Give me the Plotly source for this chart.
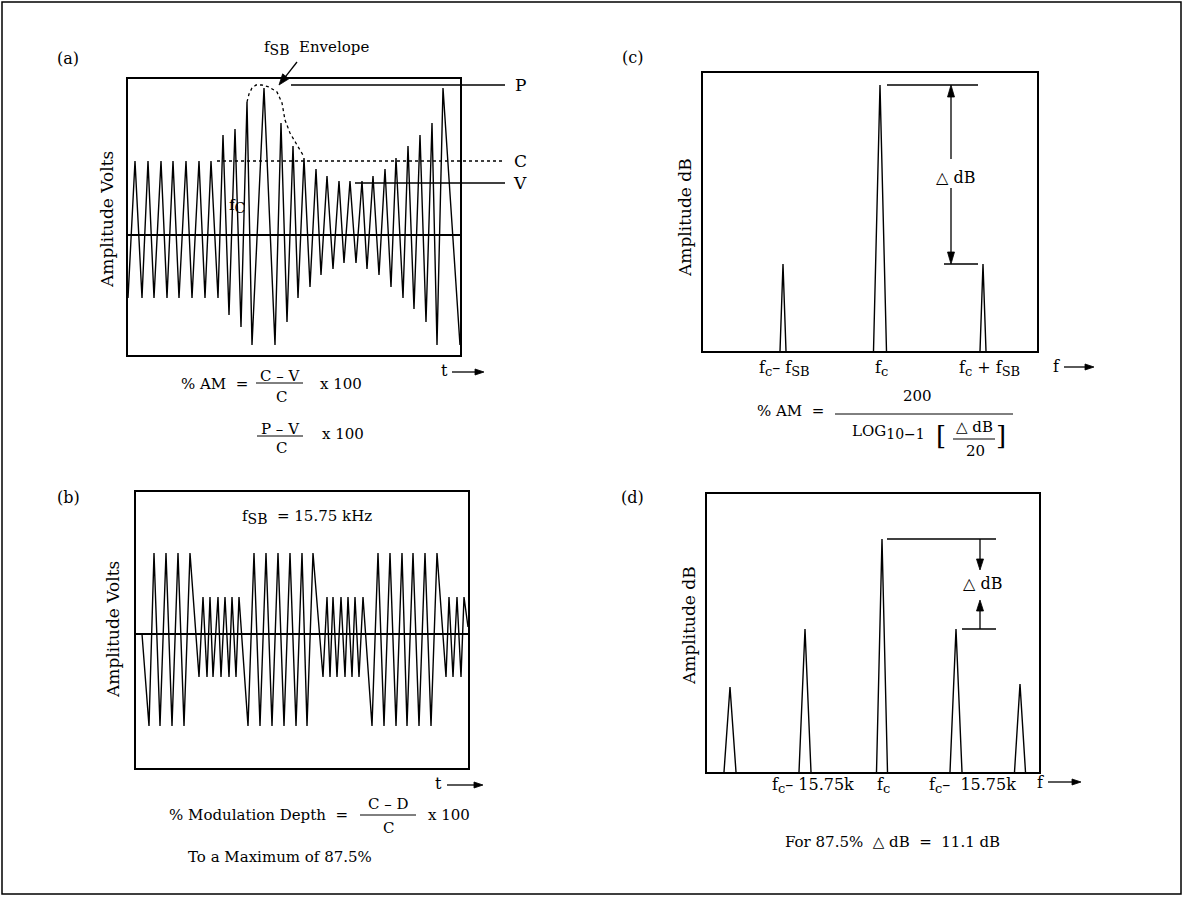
import math
import plotly.graph_objects as go

W, H = 1183, 898
FONT = "DejaVu Serif"

# ---------------- data ----------------
# (a) AM waveform: time (arb.) and amplitude (arb. volts)
a_t = [0, 7, 14, 20, 26, 33, 39, 45, 51, 58, 64, 71, 77, 83, 90,
       95, 101, 107, 113, 119, 124,
       136, 147, 153, 159, 165, 170,
       176, 182, 188, 193, 199, 205,
       211, 216, 222, 228, 234, 239,
       245, 251, 257, 263, 268, 275,
       280, 286, 292, 298, 304, 309,
       315, 332]
a_amp = [-63, 74, -63, 74, -63, 74, -63, 74, -63, 74, -63, 74, -63, 74, -63,
         100, -80, 106, -92, 133, -110,
         147, -110, 112, -87, 89, -63,
         77, -52, 66, -40, 59, -34,
         54, -28, 54, -28, 54, -34,
         59, -40, 66, -52, 77, -63,
         89, -74, 100, -87, 112, -110,
         147, -110]
# envelope sketch over the first burst
env_t = [119, 121, 124, 128, 134, 141, 149, 154, 157, 162, 169, 175]
env_amp = [133, 141, 147, 150, 150, 148, 143, 132, 115, 102, 90, 80]
# reference levels P, C, V
a_levels = {"P": 150, "C": 74, "V": 52}

# (b) sync-burst style modulation
b_t = [6, 13, 18, 24, 30, 36, 42, 48, 54,
       63, 67, 71, 74, 77, 82, 85, 89, 93, 96, 100, 103,
       112, 118, 124, 130, 136, 142, 148, 154, 160, 166, 171, 177,
       187, 191, 194, 197, 201, 205, 209, 212, 216, 219, 223, 227,
       236, 242, 248, 254, 260, 266, 271, 277, 283, 289, 295, 301,
       310, 313, 317, 321, 325, 328, 332]
b_amp = [0, -92, 81, -92, 81, -92, 81, -92, 81,
         -43, 37, -43, 37, -43, 37, -43, 37, -43, 37, -43, 37,
         -92, 81, -92, 81, -92, 81, -92, 81, -92, 81, -92, 81,
         -43, 37, -43, 37, -43, 37, -43, 37, -43, 37, -43, 37,
         -92, 81, -92, 81, -92, 81, -92, 81, -92, 81, -92, 81,
         -43, 37, -43, 37, -43, 37, 7]

# (c) spectrum: frequency offset from carrier, level (arb. dB)
c_freq = [-97, 0, 103]
c_level = [87, 266, 87]

# (d) spectrum
d_freq = [-152, -77, 0, 74, 138]
d_level = [85, 143, 233, 143, 88]


def sub(s, size=13):
    return '<sub><span style="font-size:%dpx">%s</span></sub>' % (size, s)


c_labels = ["f" + sub("c") + "– f" + sub("SB"), "f" + sub("c"), "f" + sub("c") + " + f" + sub("SB")]
d_labels = ["f" + sub("c") + "– 15.75k", "f" + sub("c"), "f" + sub("c") + "–  15.75k"]

# ---------------- geometry (pixel domains of each panel) ----------------
PANELS = {
    "a": dict(px=(128, 460), py=(355, 79), xr=(0, 332), yr=(-120, 156)),
    "b": dict(px=(136, 468), py=(768, 492), xr=(0, 332), yr=(-134, 142)),
    "c": dict(px=(703, 1037), py=(351, 73), xr=(-177, 157), yr=(0, 278)),
    "d": dict(px=(707, 1039), py=(772, 494), xr=(-175, 157), yr=(0, 278)),
}


def to_px(p, x, y):
    g = PANELS[p]
    fx = (x - g["xr"][0]) / (g["xr"][1] - g["xr"][0])
    fy = (y - g["yr"][0]) / (g["yr"][1] - g["yr"][0])
    return g["px"][0] + fx * (g["px"][1] - g["px"][0]), g["py"][0] + fy * (g["py"][1] - g["py"][0])


ann = []
shapes = []


def X(px):
    return px / W


def Y(py):
    return 1 - py / H


def text(x, y, s, size=15, xanchor="center", angle=0):
    ann.append(dict(x=X(x), y=Y(y), xref="paper", yref="paper", text=s,
                    showarrow=False, xanchor=xanchor, yanchor="middle",
                    textangle=angle,
                    font=dict(family=FONT, size=size, color="black")))


def pline(x0, y0, x1, y1, width=1.3, dash="solid"):
    shapes.append(dict(type="line", xref="paper", yref="paper",
                       x0=X(x0), y0=Y(y0), x1=X(x1), y1=Y(y1),
                       line=dict(color="black", width=width, dash=dash)))


def arrow(x0, y0, x1, y1, L=10, hw=3.5, width=1.3):
    dx, dy = x1 - x0, y1 - y0
    n = math.hypot(dx, dy)
    ux, uy = dx / n, dy / n
    bx, by = x1 - L * ux, y1 - L * uy
    pline(x0, y0, bx + ux, by + uy, width=width)
    p1 = (bx - hw * uy, by + hw * ux)
    p2 = (bx + hw * uy, by - hw * ux)
    path = "M %f,%f L %f,%f L %f,%f Z" % (X(x1), Y(y1), X(p1[0]), Y(p1[1]), X(p2[0]), Y(p2[1]))
    shapes.append(dict(type="path", xref="paper", yref="paper", path=path,
                       fillcolor="black", line=dict(color="black", width=0.8)))


def peaks(freqs, levels, hw):
    xs, ys = [], []
    for f, l, w in zip(freqs, levels, hw):
        xs += [f - w, f, f + w, None]
        ys += [0, l, 0, None]
    return xs, ys


fig = go.Figure()
line = dict(color="black", width=1.4)

fig.add_trace(go.Scatter(x=a_t, y=a_amp, mode="lines", line=line,
                         xaxis="x", yaxis="y", hoverinfo="skip"))
fig.add_trace(go.Scatter(x=env_t, y=env_amp, mode="lines",
                         line=dict(color="black", width=1.3, dash="dot"),
                         xaxis="x", yaxis="y", hoverinfo="skip"))
fig.add_trace(go.Scatter(x=b_t, y=b_amp, mode="lines", line=line,
                         xaxis="x2", yaxis="y2", hoverinfo="skip"))
cx, cy = peaks(c_freq, c_level, [3, 6.5, 3])
fig.add_trace(go.Scatter(x=cx, y=cy, mode="lines", line=line,
                         xaxis="x3", yaxis="y3", hoverinfo="skip"))
dx_, dy_ = peaks(d_freq, d_level, [6, 6, 5.5, 6, 5.5])
fig.add_trace(go.Scatter(x=dx_, y=dy_, mode="lines", line=line,
                         xaxis="x4", yaxis="y4", hoverinfo="skip"))


def ax_x(p, anchor):
    g = PANELS[p]
    return dict(domain=[X(g["px"][0]), X(g["px"][1])], range=list(g["xr"]), anchor=anchor,
                showline=True, mirror=True, linecolor="black", linewidth=1.5,
                showgrid=False, zeroline=False, showticklabels=False, ticks="",
                fixedrange=True)


def ax_y(p, anchor, zl=False):
    g = PANELS[p]
    return dict(domain=[Y(g["py"][0]), Y(g["py"][1])], range=list(g["yr"]), anchor=anchor,
                showline=True, mirror=True, linecolor="black", linewidth=1.5,
                showgrid=False, zeroline=zl, zerolinecolor="black", zerolinewidth=1.5,
                showticklabels=False, ticks="", fixedrange=True)


layout = dict(
    width=W, height=H, margin=dict(l=0, r=0, t=0, b=0),
    paper_bgcolor="white", plot_bgcolor="white", showlegend=False,
    xaxis=ax_x("a", "y"), yaxis=ax_y("a", "x", True),
    xaxis2=ax_x("b", "y2"), yaxis2=ax_y("b", "x2", True),
    xaxis3=ax_x("c", "y3"), yaxis3=ax_y("c", "x3"),
    xaxis4=ax_x("d", "y4"), yaxis4=ax_y("d", "x4"),
)

# outer border
shapes.append(dict(type="rect", xref="paper", yref="paper",
                   x0=X(2), y0=Y(894), x1=X(1181), y1=Y(2),
                   line=dict(color="black", width=1.5)))

# ---------------- panel (a) ----------------
text(68, 59, "(a)", size=16)
text(262, 48, "f" + sub("SB", 14) + "  Envelope", xanchor="left")
arrow(297, 62, 279, 85, L=11, hw=4)
text(237, 206, "f" + sub("C", 14))
for key, x0, dash in [("P", 291, "solid"), ("C", 217, "dot"), ("V", 355, "solid")]:
    shapes.append(dict(type="line", xref="paper", yref="y",
                       x0=X(x0), x1=X(505), y0=a_levels[key], y1=a_levels[key],
                       line=dict(color="black", width=1.3, dash=dash)))
    text(520, to_px("a", 0, a_levels[key])[1], key, size=17)
text(107, 220, "Amplitude Volts", size=17, angle=-90)
text(444, 370, "t", size=16)
arrow(452, 372, 484, 372, L=9, hw=3)
# formulas
text(250, 384, "% AM  =", xanchor="right")
text(280, 376, "C – V")
pline(256, 383, 303, 383, width=1)
text(281, 397, "C")
text(318, 384, "x 100", xanchor="left")
text(280, 429, "P – V")
pline(257, 436, 303, 436, width=1)
text(281, 448, "C")
text(320, 434, "x 100", xanchor="left")

# ---------------- panel (b) ----------------
text(68, 497, "(b)", size=16)
text(240, 517, "f" + sub("SB", 14) + "  = 15.75 kHz", xanchor="left")
text(113, 630, "Amplitude Volts", size=17, angle=-90)
text(438, 783, "t", size=16)
arrow(447, 785, 483, 785, L=9, hw=3)
text(350, 815, "% Modulation Depth  =", xanchor="right")
text(388, 804, "C – D")
pline(360, 815, 416, 815, width=1)
text(388, 828, "C")
text(426, 815, "x 100", xanchor="left")
text(280, 857, "To a Maximum of 87.5%")

# ---------------- panel (c) ----------------
text(632, 58, "(c)", size=16)
text(685, 218, "Amplitude dB", size=17, angle=-90)
for f, lab, shift in zip(c_freq, c_labels, [1, 1, 6]):
    ann.append(dict(x=f + shift, y=0, xref="x3", yref="y3", yshift=-17, text=lab,
                    showarrow=False, xanchor="center", yanchor="middle",
                    font=dict(family=FONT, size=16, color="black")))
text(1056, 366, "f", size=16)
arrow(1064, 367, 1094, 367, L=9, hw=3)
# delta dB markers
xc0, yc_top = to_px("c", 7, c_level[1])
xc1, _ = to_px("c", 98, c_level[1])
xcs, yc_sb = to_px("c", 64, c_level[2])
xa, _ = to_px("c", 71, 0)
pline(xc0, yc_top, xc1, yc_top)
pline(xcs, yc_sb, xc1, yc_sb)
arrow(xa, yc_top + 74, xa, yc_top, L=12, hw=3.5)
arrow(xa, yc_sb - 76, xa, yc_sb, L=12, hw=3.5)
text(955, 177, "△ dB", size=16)
# formula
text(826, 411, "% AM  =", xanchor="right")
text(917, 396, "200")
pline(835, 414, 1013, 414, width=1)
text(850, 432, "LOG" + sub("10−1", 14), xanchor="left")
text(941, 436, "[", size=26)
text(974, 427, "△ dB")
pline(953, 439, 995, 439, width=1)
text(975, 451, "20")
text(1001, 436, "]", size=26)

# ---------------- panel (d) ----------------
text(632, 497, "(d)", size=16)
text(689, 626, "Amplitude dB", size=17, angle=-90)
for f, lab, shift in zip(d_freq[1:4], d_labels, [8, 1, 16]):
    ann.append(dict(x=f + shift, y=0, xref="x4", yref="y4", yshift=-13, text=lab,
                    showarrow=False, xanchor="center", yanchor="middle",
                    font=dict(family=FONT, size=16, color="black")))
text(1040, 782, "f", size=16)
arrow(1048, 782, 1081, 782, L=9, hw=3)
xd0, yd_top = to_px("d", 5, d_level[2])
xd1, _ = to_px("d", 114, d_level[2])
xds, yd_sb = to_px("d", 80, d_level[3])
xb, _ = to_px("d", 98, 0)
pline(xd0, yd_top, xd1, yd_top)
pline(xds, yd_sb, xd1, yd_sb)
arrow(xb, yd_top, xb, yd_top + 31, L=11, hw=3.5)
arrow(xb, yd_sb, xb, yd_sb - 29, L=11, hw=3.5)
text(982, 583, "△ dB", size=16)
text(892, 842, "For 87.5%  △ dB  =  11.1 dB")

layout["annotations"] = ann
layout["shapes"] = shapes
fig.update_layout(**layout)
fig.write_html("out.html", config={"displayModeBar": False},
               post_script="document.body.style.margin='0';document.body.style.overflow='hidden';")
